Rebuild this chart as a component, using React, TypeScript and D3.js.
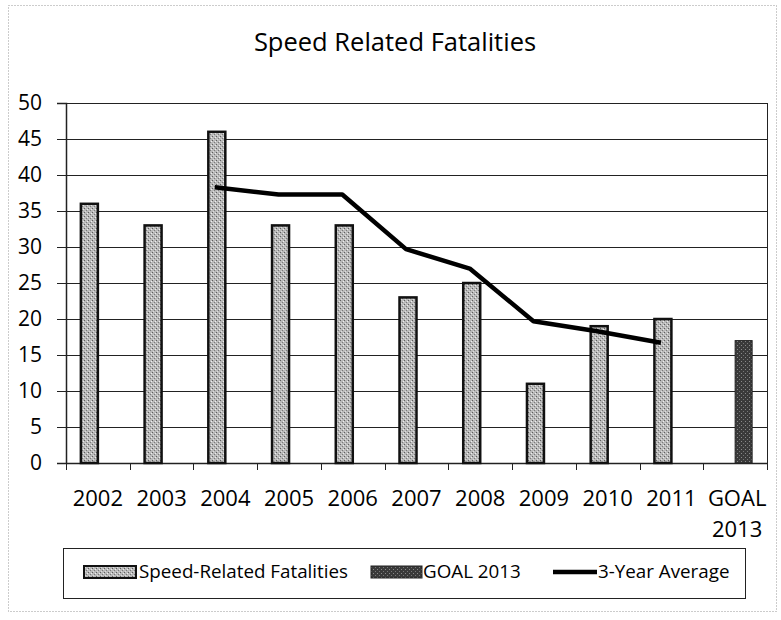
import { useEffect, useRef } from "react";
import * as d3 from "d3";

// categories and series
const categories = ["2002", "2003", "2004", "2005", "2006", "2007", "2008", "2009", "2010", "2011", "GOAL 2013"];
const speedFatalities = [36, 33, 46, 33, 33, 23, 25, 11, 19, 20, null];
const goal2013 = [null, null, null, null, null, null, null, null, null, null, 17];
const threeYearAverage = [null, null, 38.3, 37.3, 37.3, 29.7, 27, 19.7, 18.3, 16.7, null];
const yTicks = [0, 5, 10, 15, 20, 25, 30, 35, 40, 45, 50];

const FONT = "'Open Sans', Lato, sans-serif";

const SpeedChart = () => {
  const svgRef = useRef<SVGSVGElement>(null);

  useEffect(() => {
    if (!svgRef.current) return;
    const width = 781;
    const height = 620;
    const margin = { top: 103, right: 14, bottom: 157, left: 66 };

    const svg = d3.select(svgRef.current);
    svg.selectAll("*").remove();
    svg.attr("width", width).attr("height", height).style("font-family", FONT);

    // patterns for the scanned-looking fills
    const defs = svg.append("defs");
    const light = defs
      .append("pattern")
      .attr("id", "pat-light")
      .attr("patternUnits", "userSpaceOnUse")
      .attr("width", 4)
      .attr("height", 4);
    light.append("rect").attr("width", 4).attr("height", 4).attr("fill", "#b9b9b9");
    light.append("rect").attr("x", 0).attr("y", 0).attr("width", 1).attr("height", 1).attr("fill", "#5e5e5e");
    light.append("rect").attr("x", 2).attr("y", 2).attr("width", 1).attr("height", 1).attr("fill", "#7a7a7a");
    light.append("rect").attr("x", 3).attr("y", 1).attr("width", 1).attr("height", 1).attr("fill", "#eee");
    light.append("rect").attr("x", 1).attr("y", 3).attr("width", 1).attr("height", 1).attr("fill", "#ddd");

    const dark = defs
      .append("pattern")
      .attr("id", "pat-dark")
      .attr("patternUnits", "userSpaceOnUse")
      .attr("width", 4)
      .attr("height", 4);
    dark.append("rect").attr("width", 4).attr("height", 4).attr("fill", "#3a3a3a");
    dark.append("rect").attr("x", 1).attr("y", 1).attr("width", 1).attr("height", 1).attr("fill", "#8a8a8a");
    dark.append("rect").attr("x", 3).attr("y", 3).attr("width", 1).attr("height", 1).attr("fill", "#777");

    // outer dotted frame
    svg
      .append("rect")
      .attr("x", 8.5)
      .attr("y", 5.5)
      .attr("width", 768)
      .attr("height", 606)
      .attr("fill", "none")
      .attr("stroke", "#999")
      .attr("stroke-dasharray", "1,2");

    const x0 = d3.scaleBand<string>().domain(categories).range([margin.left, width - margin.right]);
    const x1 = d3
      .scaleBand<string>()
      .domain(["speed", "goal"])
      .range([0, x0.bandwidth()])
      .paddingInner(0)
      .paddingOuter(0.875);
    const y = d3.scaleLinear().domain([0, 50]).range([height - margin.bottom, margin.top]);

    // gridlines
    svg
      .append("g")
      .selectAll("line")
      .data(yTicks.filter((d) => d > 0))
      .join("line")
      .attr("x1", margin.left)
      .attr("x2", width - margin.right)
      .attr("y1", (d) => Math.round(y(d)) + 0.5)
      .attr("y2", (d) => Math.round(y(d)) + 0.5)
      .attr("stroke", "#222")
      .attr("stroke-width", 1);

    // right border of plot
    svg
      .append("line")
      .attr("x1", width - margin.right + 0.5)
      .attr("x2", width - margin.right + 0.5)
      .attr("y1", y(50))
      .attr("y2", y(0))
      .attr("stroke", "#222");

    // y axis
    const yAxis = svg
      .append("g")
      .attr("transform", `translate(${margin.left},0)`)
      .call(d3.axisLeft(y).tickValues(yTicks).tickSize(9).tickPadding(15));
    yAxis.select(".domain").attr("stroke", "#222").attr("stroke-width", 1.5);
    yAxis.selectAll(".tick line").attr("stroke", "#222");
    yAxis
      .selectAll(".tick text")
      .attr("fill", "#000")
      .style("font-family", FONT)
      .style("font-size", "21px");

    // x axis
    const xAxis = svg
      .append("g")
      .attr("transform", `translate(0,${y(0)})`)
      .call(d3.axisBottom(x0).tickSize(0).tickFormat(() => ""));
    xAxis.select(".domain").attr("stroke", "#222").attr("stroke-width", 1.5);
    svg
      .append("g")
      .selectAll("line")
      .data(categories.map((c) => x0(c)!).concat([width - margin.right]))
      .join("line")
      .attr("x1", (d) => Math.round(d) + 0.5)
      .attr("x2", (d) => Math.round(d) + 0.5)
      .attr("y1", y(0))
      .attr("y2", y(0) + 7)
      .attr("stroke", "#222");

    const labels = svg
      .append("g")
      .selectAll("text")
      .data(categories)
      .join("text")
      .attr("text-anchor", "middle")
      .attr("font-size", 22)
      .attr("fill", "#000");
    labels.each(function (d) {
      const cx = x0(d)! + x0.bandwidth() / 2;
      const parts = d.split(" ");
      parts.forEach((p, i) => {
        d3.select(this)
          .append("tspan")
          .attr("x", cx + (parts.length > 1 ? 2 : 0))
          .attr("y", 506 + i * 31)
          .text(p);
      });
    });

    // bars
    svg
      .append("g")
      .selectAll("rect")
      .data(categories.map((c, i) => ({ c, v: speedFatalities[i] })).filter((d) => d.v != null))
      .join("rect")
      .attr("x", (d) => x0(d.c)! + x1("speed")!)
      .attr("y", (d) => y(d.v as number))
      .attr("width", x1.bandwidth())
      .attr("height", (d) => y(0) - y(d.v as number))
      .attr("fill", "url(#pat-light)")
      .attr("stroke", "#111")
      .attr("stroke-width", 2.5);

    svg
      .append("g")
      .selectAll("rect")
      .data(categories.map((c, i) => ({ c, v: goal2013[i] })).filter((d) => d.v != null))
      .join("rect")
      .attr("x", (d) => x0(d.c)! + x1("goal")!)
      .attr("y", (d) => y(d.v as number))
      .attr("width", x1.bandwidth())
      .attr("height", (d) => y(0) - y(d.v as number))
      .attr("fill", "url(#pat-dark)")
      .attr("stroke", "#222")
      .attr("stroke-width", 1);

    // 3-year average line, drawn through the centres of the speed bars
    const avgPts = categories
      .map((c, i) => ({ c, v: threeYearAverage[i] }))
      .filter((d) => d.v != null);
    const line = d3
      .line<{ c: string; v: number | null }>()
      .x((d) => x0(d.c)! + x1("speed")! + x1.bandwidth() / 2 - 2)
      .y((d) => y(d.v as number));
    svg
      .append("path")
      .datum(avgPts)
      .attr("d", line)
      .attr("fill", "none")
      .attr("stroke", "#000")
      .attr("stroke-width", 4.5)
      .attr("stroke-linejoin", "round");

    // title
    svg
      .append("text")
      .attr("x", 395)
      .attr("y", 51)
      .attr("text-anchor", "middle")
      .attr("font-size", 25.5)
      .attr("fill", "#000")
      .text("Speed Related Fatalities");

    // legend
    const lg = svg.append("g").attr("font-size", 18.8);
    lg.append("rect")
      .attr("x", 63.5)
      .attr("y", 548.5)
      .attr("width", 682)
      .attr("height", 50)
      .attr("fill", "#fff")
      .attr("stroke", "#222");
    const ly = 572;
    lg.append("rect")
      .attr("x", 84)
      .attr("y", ly - 6)
      .attr("width", 52)
      .attr("height", 12)
      .attr("fill", "url(#pat-light)")
      .attr("stroke", "#111")
      .attr("stroke-width", 2);
    lg.append("text").attr("x", 139).attr("y", ly + 6).text("Speed-Related Fatalities");
    lg.append("rect")
      .attr("x", 371)
      .attr("y", ly - 6)
      .attr("width", 51)
      .attr("height", 12)
      .attr("fill", "url(#pat-dark)")
      .attr("stroke", "#222")
      .attr("stroke-width", 1);
    lg.append("text").attr("x", 423).attr("y", ly + 6).text("GOAL 2013");
    lg.append("line")
      .attr("x1", 553)
      .attr("x2", 597)
      .attr("y1", ly)
      .attr("y2", ly)
      .attr("stroke", "#000")
      .attr("stroke-width", 4.5);
    lg.append("text").attr("x", 598).attr("y", ly + 6).text("3-Year Average");
  }, []);

  return (
    <div style={{ position: "absolute", left: 0, top: 0, background: "#fff" }}>
      <svg ref={svgRef}></svg>
    </div>
  );
};

export default function App() {
  return <SpeedChart />;
}
